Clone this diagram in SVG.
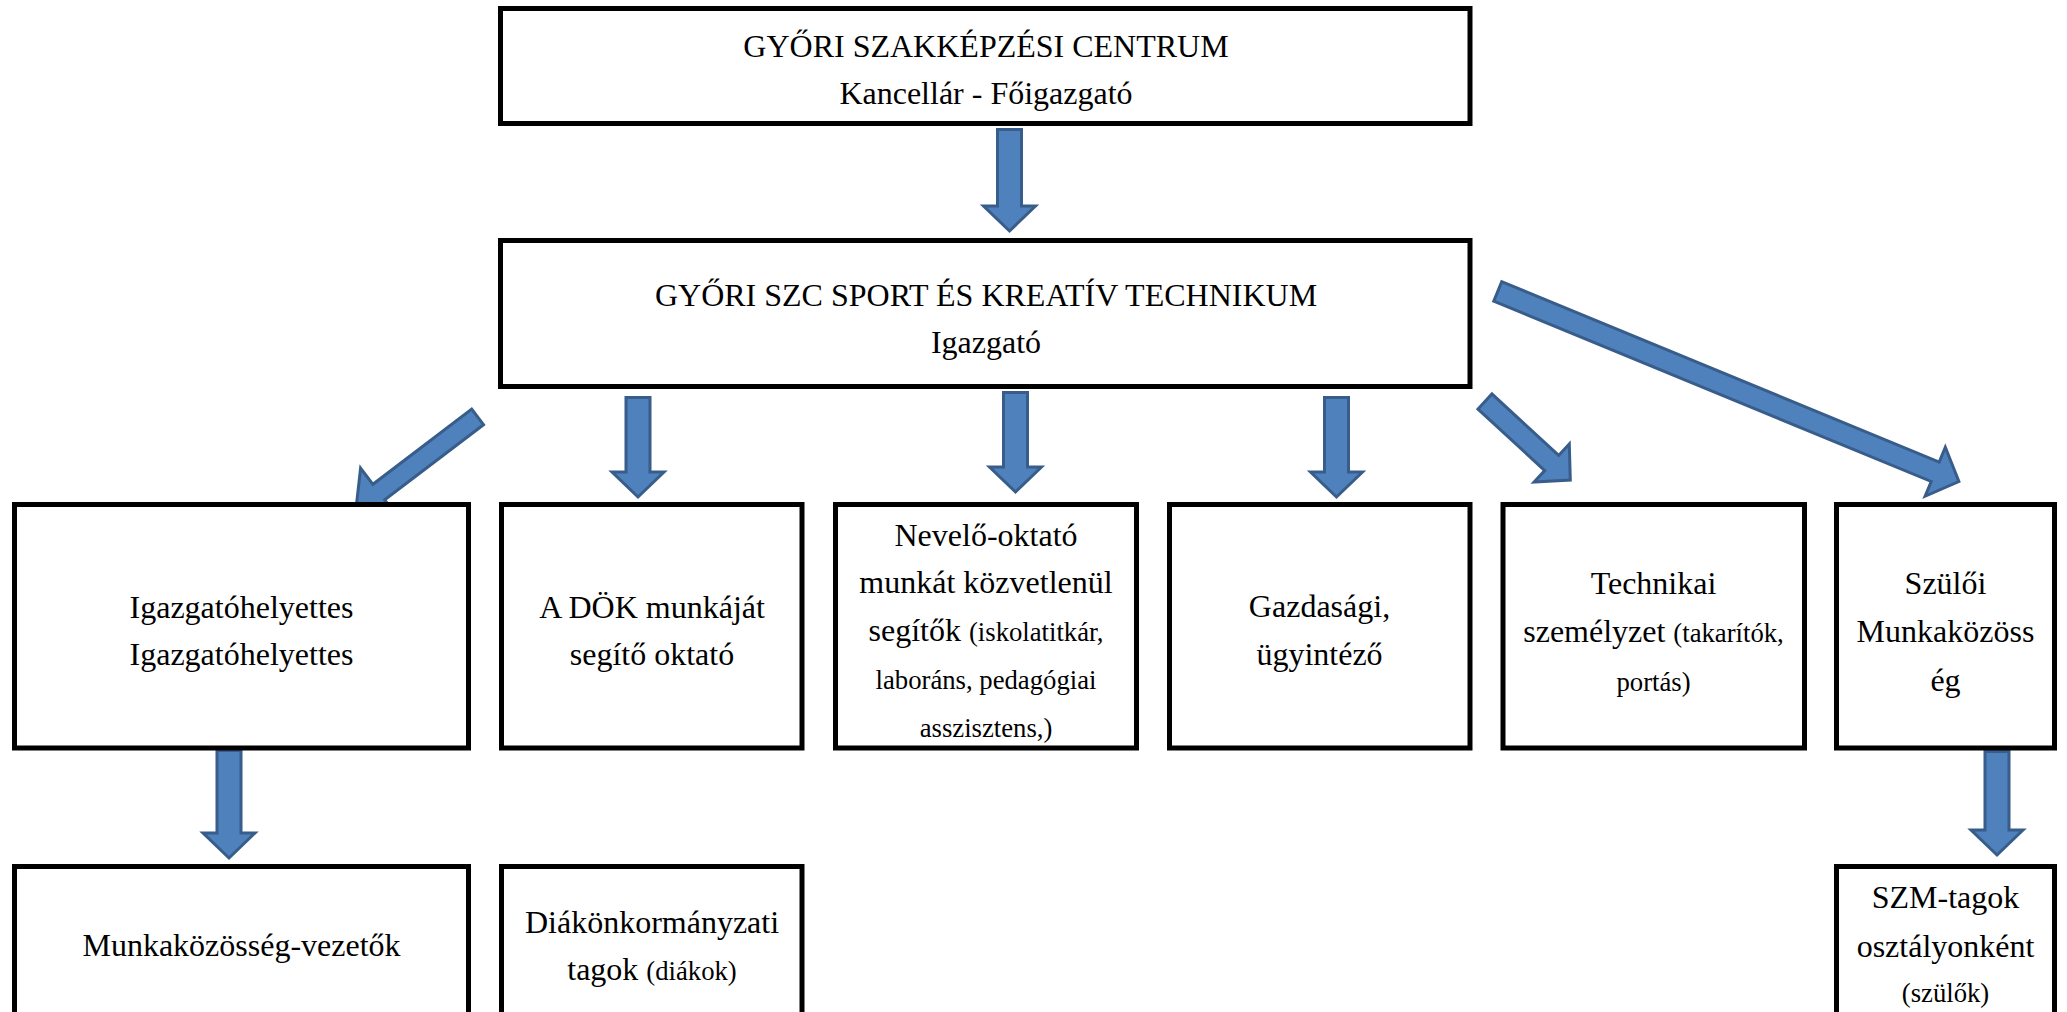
<svg xmlns="http://www.w3.org/2000/svg" width="2067" height="1012" viewBox="0 0 2067 1012">
<style>
.box{fill:#ffffff;stroke:#000000;stroke-width:5}
.arrow{fill:#4F81BD;stroke:#385D8A;stroke-width:3;stroke-linejoin:miter}
text{font-family:"Liberation Serif","Times New Roman",serif;font-size:32px;fill:#000000;text-anchor:middle}
.sm{font-size:26.7px}
</style>
<rect width="2067" height="1012" fill="#ffffff"/>
<g id="connectors">
<polygon class="arrow" points="997.5,129.5 1021.5,129.5 1021.5,206 1035.5,206 1009.5,231 983.5,206 997.5,206"/>
<polygon class="arrow" points="626,397.5 650,397.5 650,472 664,472 638,497 612,472 626,472"/>
<polygon class="arrow" points="1003.5,392.5 1027.5,392.5 1027.5,467 1041.5,467 1015.5,492 989.5,467 1003.5,467"/>
<polygon class="arrow" points="1324.5,397.5 1348.5,397.5 1348.5,472 1362.5,472 1336.5,497 1310.5,472 1324.5,472"/>
<polygon class="arrow" points="217,750.5 241,750.5 241,833 255,833 229,858 203,833 217,833"/>
<polygon class="arrow" points="1985,751.5 2009,751.5 2009,830 2023,830 1997,855 1971,830 1985,830"/>
<polygon class="arrow" points="483.5,424.7 384.7,499.9 397,516 355.9,509.6 360.6,468.2 372.9,484.3 471.7,409.1"/>
<polygon class="arrow" points="1477.98,409.09 1544.72,470.56 1534.09,482.1 1570.29,480.12 1569.29,443.88 1558.66,455.42 1491.92,393.95"/>
<polygon class="arrow" points="1493.74,301.08 1931.21,481.47 1925.11,496.26 1958.88,481.51 1945.31,447.26 1939.21,462.05 1501.74,281.66"/>
</g>
<g id="node-gyori-szc">
<rect class="box" x="500.5" y="8.5" width="969.5" height="115"/>
<text x="986" y="57">GYŐRI SZAKKÉPZÉSI CENTRUM</text>
<text x="986" y="104">Kancellár - Főigazgató</text>
</g>
<g id="node-technikum">
<rect class="box" x="500.5" y="240.5" width="969.5" height="146"/>
<text x="986" y="306">GYŐRI SZC SPORT ÉS KREATÍV TECHNIKUM</text>
<text x="986" y="353">Igazgató</text>
</g>
<g id="node-igazgatohelyettes">
<rect class="box" x="14.5" y="504.5" width="454" height="243.5"/>
<text x="241.5" y="618">Igazgatóhelyettes</text>
<text x="241.5" y="665">Igazgatóhelyettes</text>
</g>
<g id="node-dok">
<rect class="box" x="501.5" y="504.5" width="300.5" height="243.5"/>
<text x="652" y="618">A DÖK munkáját</text>
<text x="652" y="665">segítő oktató</text>
</g>
<g id="node-nevelo">
<rect class="box" x="835.5" y="504.5" width="301" height="243.5"/>
<text x="986" y="546">Nevelő-oktató</text>
<text x="986" y="593">munkát közvetlenül</text>
<text x="986" y="641">segítők <tspan class="sm">(iskolatitkár,</tspan></text>
<text class="sm" x="986" y="689">laboráns, pedagógiai</text>
<text class="sm" x="986" y="737">asszisztens,)</text>
</g>
<g id="node-gazdasagi">
<rect class="box" x="1169.5" y="504.5" width="300.5" height="243.5"/>
<text x="1319.5" y="617">Gazdasági,</text>
<text x="1319.5" y="665">ügyintéző</text>
</g>
<g id="node-technikai">
<rect class="box" x="1503" y="504.5" width="301.5" height="243.5"/>
<text x="1653.5" y="594">Technikai</text>
<text x="1653.5" y="642">személyzet <tspan class="sm">(takarítók,</tspan></text>
<text class="sm" x="1653.5" y="691">portás)</text>
</g>
<g id="node-szuloi">
<rect class="box" x="1836.5" y="504.5" width="218" height="243.5"/>
<text x="1945.5" y="594">Szülői</text>
<text x="1945.5" y="642">Munkaközöss</text>
<text x="1945.5" y="691">ég</text>
</g>
<g id="node-munkakozosseg">
<rect class="box" x="14.5" y="866.5" width="454" height="200"/>
<text x="241.5" y="956">Munkaközösség-vezetők</text>
</g>
<g id="node-diakonkormanyzat">
<rect class="box" x="501.5" y="866.5" width="300.5" height="200"/>
<text x="652" y="933">Diákönkormányzati</text>
<text x="652" y="980">tagok <tspan class="sm">(diákok)</tspan></text>
</g>
<g id="node-szm">
<rect class="box" x="1836.5" y="866.5" width="218" height="200"/>
<text x="1945.5" y="908">SZM-tagok</text>
<text x="1945.5" y="957">osztályonként</text>
<text class="sm" x="1945.5" y="1002">(szülők)</text>
</g>
</svg>
